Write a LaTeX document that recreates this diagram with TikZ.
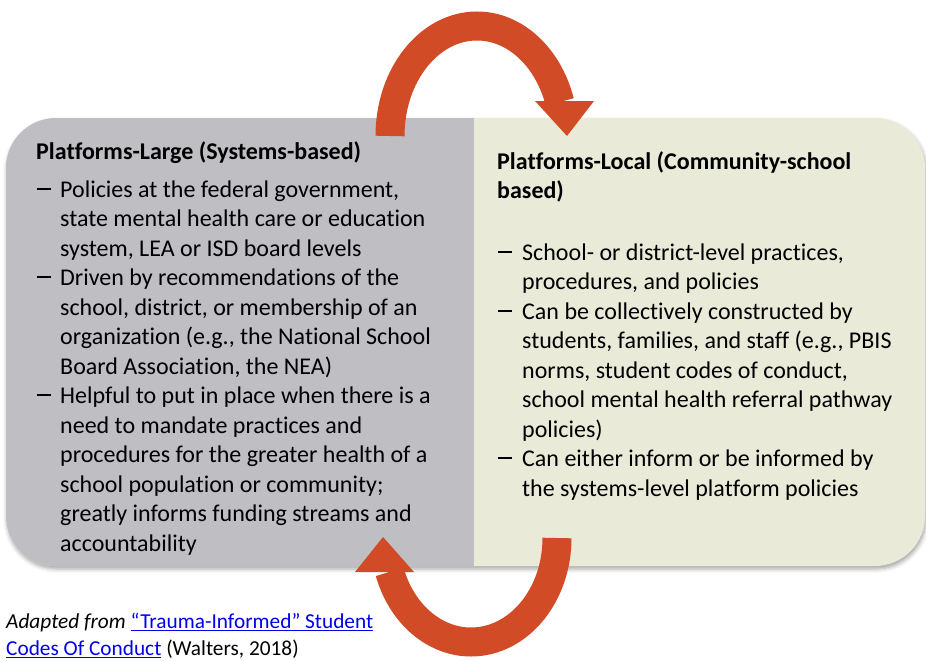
\documentclass[tikz,border=0pt]{standalone}
\usepackage{fontspec}
\setmainfont{Carlito}[Ligatures={NoCommon,NoContextual}]
\usetikzlibrary{shadows.blur}
\definecolor{largegray}{RGB}{190,190,195}
\definecolor{localgreen}{RGB}{233,235,216}
\definecolor{cyclered}{RGB}{209,75,38}
\definecolor{linkblue}{RGB}{0,0,238}
\newcommand{\itemdash}{\rule[7.4pt]{13.5pt}{1.8pt}}

\begin{document}
\begin{tikzpicture}[x=1pt, y=-1pt,
		body/.style={anchor=north west, inner sep=0pt, yshift=20.65pt, align=left, font=\fontsize{24}{29.5}\selectfont},
		head/.style={body, font=\fontsize{24}{29.5}\selectfont\bfseries},
		dashmark/.style={anchor=base west, inner sep=0pt, font=\fontsize{24}{29.5}\selectfont},
		source/.style={anchor=north west, inner sep=0pt, yshift=18.9pt, align=left, font=\fontsize{21.3}{27}\selectfont},
		band/.style={line width=29pt, color=cyclered}]
		%%%%% START %%%%%
		
		\useasboundingbox (0,0) rectangle (926,661);
		
		% the two platforms
		\fill[localgreen, rounded corners=50, blur shadow={shadow xshift=1pt, shadow yshift=-3pt, shadow blur radius=4pt, shadow opacity=35}] (6,118) rectangle (925,566);
		\begin{scope}
			\clip[rounded corners=50] (6,118) rectangle (925,566);
			\fill[largegray] (0,110) rectangle (474,570);
		\end{scope}
		
		% top arrow, large -> local
		\draw[band] (390,136) arc[start angle=180, end angle=342, x radius=87, y radius=110];
		\fill[cyclered] (535,101) -- (594,101) -- (567,136) -- cycle;
		
		% bottom arrow, local -> large
		\draw[band] (557,538) arc[start angle=0, end angle=161, x radius=86, y radius=104];
		\fill[cyclered] (355,572) -- (414,572) -- (383,537) -- cycle;
		
		% left text
		\node[head] (largetitle) at (36,159) {\strut Platforms-Large (Systems-based)};
		\node[dashmark] (largedasha) at (37,197) {\itemdash};
		\node[body] (largea) at (60,197) {\strut Policies at the federal government,\\state mental health care or education\\system, LEA or ISD board levels};
		\node[dashmark] (largedashb) at (37,285.5) {\itemdash};
		\node[body] (largeb) at (60,285.5) {\strut Driven by recommendations of the\\school, district, or membership of an\\organization (e.g., the National School\\Board Association, the NEA)};
		\node[dashmark] (largedashc) at (37,403.5) {\itemdash};
		\node[body] (largec) at (60,403.5) {\strut Helpful to put in place when there is a\\need to mandate practices and\\procedures for the greater health of a\\school population or community;\\greatly informs funding streams and\\accountability};
		
		% right text
		\node[head] (localtitle) at (497,169) {\strut Platforms-Local (Community-school\\based)};
		\node[dashmark] (localdasha) at (498,260) {\itemdash};
		\node[body] (locala) at (522,260) {\strut School- or district-level practices,\\procedures, and policies};
		\node[dashmark] (localdashb) at (498,319) {\itemdash};
		\node[body] (localb) at (522,319) {\strut Can be collectively constructed by\\students, families, and staff (e.g., PBIS\\norms, student codes of conduct,\\school mental health referral pathway\\policies)};
		\node[dashmark] (localdashc) at (498,466.5) {\itemdash};
		\node[body] (localc) at (522,466.5) {\strut Can either inform or be informed by\\the systems-level platform policies};
		
		% source
		\node[source] (adapted) at (6,628) {\strut\textit{Adapted from} \textcolor{linkblue}{\underline{“Trauma-Informed” Student}}\\\textcolor{linkblue}{\underline{Codes Of Conduct}} (Walters, 2018)};
		
		%%%%% END %%%%%
	\end{tikzpicture}
\end{document}
